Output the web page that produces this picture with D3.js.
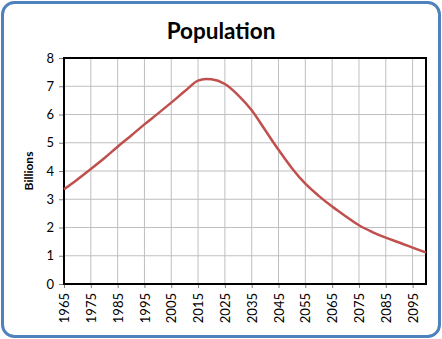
<!DOCTYPE html>
<html><head><meta charset="utf-8">
<script src="https://cdn.jsdelivr.net/npm/d3@7/dist/d3.min.js"></script>
<style>body{margin:0;background:#fff;}svg{display:block;font-family:Lato,"Open Sans",sans-serif;}</style>
</head><body><svg id="c" width="442" height="339"></svg>
<script>
const years = [1965,1970,1975,1980,1985,1990,1995,2000,2005,2010,2015,2018,2020,2025,2030,2035,2040,2045,2050,2055,2060,2065,2070,2075,2080,2085,2090,2095,2100];
const population = [3.35,3.70,4.07,4.45,4.86,5.25,5.65,6.03,6.42,6.82,7.20,7.26,7.25,7.08,6.68,6.15,5.45,4.75,4.10,3.55,3.12,2.74,2.40,2.08,1.84,1.64,1.47,1.29,1.11];
const xTicks = [1965,1975,1985,1995,2005,2015,2025,2035,2045,2055,2065,2075,2085,2095];
const yTicks = [0,1,2,3,4,5,6,7,8];
const title = "Population";
const yLabel = "Billions";

const svg = d3.select("#c");
const m = {l:64, r:426, t:58, b:284};
const x = d3.scaleLinear().domain([1965,2100]).range([m.l, m.r]);
const y = d3.scaleLinear().domain([0,8]).range([m.b, m.t]);

svg.append("rect").attr("x",2.5).attr("y",2.5).attr("width",437).attr("height",334)
  .attr("rx",12).attr("fill","#fff").attr("stroke","#4f81bd").attr("stroke-width",3);

svg.append("text").attr("x",221).attr("y",39).attr("text-anchor","middle")
  .attr("font-size",22.5).attr("font-weight","bold").attr("fill","#000").text(title);

// gridlines
svg.append("g").selectAll("line").data(yTicks.slice(1,-1)).join("line")
  .attr("x1",m.l).attr("x2",m.r).attr("y1",d=>y(d)).attr("y2",d=>y(d))
  .attr("stroke","#bfbfbf").attr("stroke-width",1);
svg.append("g").selectAll("line").data(xTicks.slice(1)).join("line")
  .attr("y1",m.t).attr("y2",m.b).attr("x1",d=>x(d)).attr("x2",d=>x(d))
  .attr("stroke","#bfbfbf").attr("stroke-width",1);

// axes
const ya = svg.append("g").attr("transform",`translate(${m.l},0)`)
  .call(d3.axisLeft(y).tickValues(yTicks).tickSize(5).tickPadding(5).tickFormat(d3.format("d")));
ya.select(".domain").remove();
ya.selectAll("line").attr("stroke","#808080");
ya.selectAll("text").attr("font-size",13).attr("font-family","Lato,sans-serif").attr("fill","#000");

const xa = svg.append("g").attr("transform",`translate(0,${m.b})`)
  .call(d3.axisBottom(x).tickValues(xTicks).tickSize(4).tickFormat(d3.format("d")));
xa.select(".domain").remove();
xa.selectAll("line").attr("stroke","#808080");
xa.selectAll("text").attr("font-size",13).attr("font-family","Lato,sans-serif").attr("fill","#000")
  .attr("transform","rotate(-90)").attr("text-anchor","end").attr("x",-9).attr("y",0).attr("dy","0.35em");

// plot border
svg.append("rect").attr("x",m.l).attr("y",m.t).attr("width",m.r-m.l).attr("height",m.b-m.t)
  .attr("fill","none").attr("stroke","#000").attr("stroke-width",2);

// line
const line = d3.line().x((d,i)=>x(years[i])).y(d=>y(d)).curve(d3.curveMonotoneX);
svg.append("path").datum(population).attr("d",line).attr("fill","none")
  .attr("stroke","#c0504d").attr("stroke-width",2.5);

svg.append("text").attr("transform",`translate(33,171) rotate(-90)`).attr("text-anchor","middle")
  .attr("font-size",12).attr("font-weight","bold").attr("fill","#000").text(yLabel);
</script></body></html>
